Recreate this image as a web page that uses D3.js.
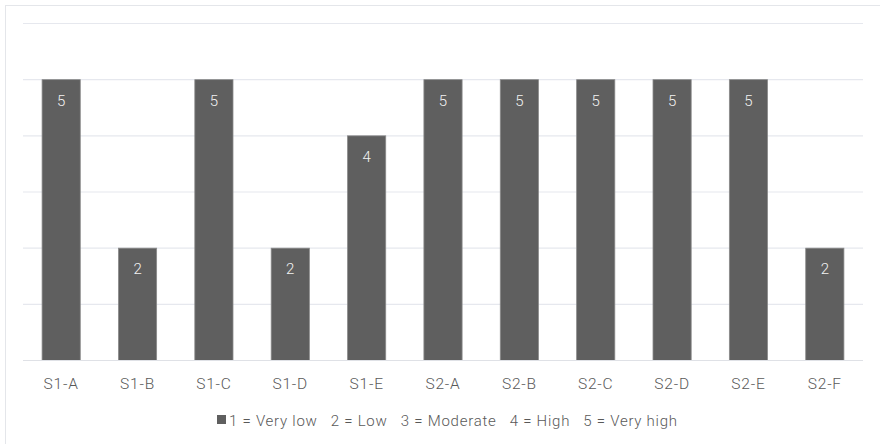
<!DOCTYPE html>
<html><head><meta charset="utf-8">
<script src="https://cdn.jsdelivr.net/npm/d3@7"></script>
<style>body{margin:0;background:#fff;font-family:Roboto,"Noto Sans",sans-serif;}</style>
</head><body><svg id="c" width="880" height="444"></svg>
<script>
const categories = ["S1-A","S1-B","S1-C","S1-D","S1-E","S2-A","S2-B","S2-C","S2-D","S2-E","S2-F"];
const values = [5,2,5,2,4,5,5,5,5,5,2];
const yTicks = [0,1,2,3,4,5,6];
const legendText = "1 = Very low   2 = Low   3 = Moderate   4 = High   5 = Very high";

const svg = d3.select("#c");
const m = {l:23, r:17, t:23.5, b:83.5};
const W = 880, H = 444;
svg.append("rect").attr("x",5.5).attr("y",5.5).attr("width",890).attr("height",460)
  .attr("fill","#fff").attr("stroke","#e4e6ea").attr("stroke-width",1);

const x = d3.scaleBand().domain(categories).range([m.l, W-m.r]).paddingInner(0.5).paddingOuter(0.25);
const y = d3.scaleLinear().domain([0,6]).range([H-m.b, m.t]);

const g = svg.append("g");
g.selectAll("line.grid").data(yTicks.filter(d=>d>0)).enter().append("line")
  .attr("x1",m.l).attr("x2",W-m.r).attr("y1",d=>y(d)).attr("y2",d=>y(d))
  .attr("stroke","#e6e8ee").attr("stroke-width",1.2);

g.selectAll("rect.bar").data(values).enter().append("rect")
  .attr("x",(d,i)=>x(categories[i])).attr("width",x.bandwidth())
  .attr("y",d=>y(d)).attr("height",d=>y(0)-y(d))
  .attr("fill","#5f5f5f").attr("stroke","#8a8a8a").attr("stroke-width",0.8);

g.append("line").attr("x1",m.l).attr("x2",W-m.r).attr("y1",y(0)).attr("y2",y(0))
  .attr("stroke","#dfe1e6").attr("stroke-width",1.2);

g.selectAll("text.lbl").data(values).enter().append("text")
  .attr("x",(d,i)=>x(categories[i])+x.bandwidth()/2).attr("y",d=>y(d)+26)
  .attr("text-anchor","middle").attr("fill","#f2f2f2").attr("font-size",15).attr("font-weight",300)
  .text(d=>d);

const xa = svg.append("g").attr("transform",`translate(0,${y(0)})`)
  .call(d3.axisBottom(x).tickSize(0).tickPadding(17));
xa.select(".domain").remove();
xa.selectAll("text").attr("fill","#595959").attr("font-size",15.5).attr("font-weight",300)
  .attr("letter-spacing","0.8px").attr("font-family","Roboto,sans-serif");

const lg = svg.append("g");
const legendW = 448;
const cx = 447;
const sx = cx - (legendW + 12)/2;
lg.append("rect").attr("x",sx).attr("y",415).attr("width",9).attr("height",9).attr("fill","#5f5f5f");
lg.append("text").attr("x",sx+12).attr("y",426).attr("fill","#595959").attr("font-size",15).attr("font-weight",300)
  .attr("textLength",legendW).attr("lengthAdjust","spacing")
  .style("white-space","pre").text(legendText);
</script></body></html>
